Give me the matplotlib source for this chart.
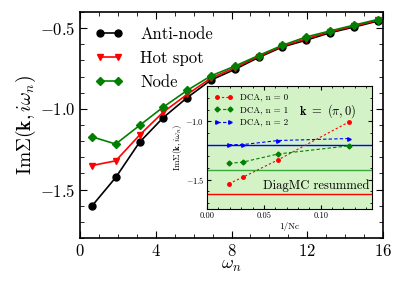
import numpy as np
import matplotlib
matplotlib.use("Agg")
import matplotlib.pyplot as plt
from matplotlib.ticker import MultipleLocator

plt.rcParams["font.family"] = "serif"
plt.rcParams["font.serif"] = ["cmr10", "DejaVu Serif"]
plt.rcParams["mathtext.fontset"] = "cm"
plt.rcParams["axes.formatter.use_mathtext"] = True

# Matsubara frequencies
wn = [0.628, 1.885, 3.142, 4.398, 5.655, 6.912, 8.168, 9.425, 10.681, 11.938, 13.195, 14.451, 15.708]
antinode = [-1.602, -1.425, -1.207, -1.054, -0.931, -0.822, -0.756, -0.682, -0.617, -0.575, -0.529, -0.494, -0.457]
hotspot = [-1.351, -1.322, -1.163, -1.020, -0.911, -0.810, -0.746, -0.676, -0.612, -0.566, -0.523, -0.488, -0.452]
node = [-1.173, -1.218, -1.103, -0.989, -0.886, -0.796, -0.736, -0.670, -0.607, -0.555, -0.518, -0.482, -0.447]

# inset: DCA extrapolation in 1/Nc
inv_nc = [0.0192, 0.03125, 0.0625, 0.125]
dca_n0 = [-1.534, -1.48, -1.33, -1.005]
dca_n1 = [-1.36, -1.35, -1.28, -1.21]
dca_n2 = [-1.20, -1.20, -1.165, -1.148]
diagmc = [-1.62, -1.42, -1.20]  # n = 0, 1, 2

fig = plt.figure(figsize=(3.99, 2.91), dpi=100)
ax = fig.add_axes([0.2005, 0.182, 0.7595, 0.777])

ax.plot(wn, antinode, "-o", color="black", ms=5, lw=1.2, label="Anti-node")
ax.plot(wn, hotspot, "-v", color="red", ms=5, lw=1.2, label="Hot spot")
ax.plot(wn, node, "-D", color="green", ms=4, lw=1.2, label="Node")

ax.set_xlim(0, 16)
ax.set_ylim(-1.8, -0.4)
ax.xaxis.set_major_locator(MultipleLocator(4))
ax.xaxis.set_minor_locator(MultipleLocator(1))
ax.yaxis.set_major_locator(MultipleLocator(0.5))
ax.yaxis.set_minor_locator(MultipleLocator(0.1))
ax.tick_params(which="both", direction="in", top=True, right=True, labelsize=12)
ax.tick_params(which="major", length=5)
ax.tick_params(which="minor", length=3)
for s in ax.spines.values():
    s.set_linewidth(1.2)
ax.set_xlabel(r"$\omega_n$", fontsize=13, labelpad=0)
ax.set_ylabel(r"$\mathrm{Im}\Sigma(\mathbf{k},i\omega_n)$", fontsize=14, labelpad=1)
ax.legend(loc="upper left", frameon=False, fontsize=12, numpoints=2,
          handlelength=1.7, borderaxespad=0.5, labelspacing=0.5, handletextpad=1.0)

# inset
ins = fig.add_axes([0.519, 0.282, 0.413, 0.422])
ins.set_facecolor("#d3f2c6")
ins.axhline(diagmc[0], color="red", lw=1.0)
ins.axhline(diagmc[1], color="#3aa83a", lw=1.0)
ins.axhline(diagmc[2], color="blue", lw=1.0)
ins.plot(inv_nc, dca_n0, ls=(0, (2, 2)), marker="o", color="red", ms=2.5, lw=0.8, label="DCA, n = 0")
ins.plot(inv_nc, dca_n1, ls=(0, (3, 2)), marker="D", color="green", ms=2.5, lw=0.8, label="DCA, n = 1")
ins.plot(inv_nc, dca_n2, ls=(0, (3, 2)), marker=">", color="blue", ms=2.5, lw=0.8, label="DCA, n = 2")
ins.set_xlim(0, 0.145)
ins.set_ylim(-1.75, -0.7)
ins.xaxis.set_major_locator(MultipleLocator(0.05))
ins.xaxis.set_minor_locator(MultipleLocator(0.01))
ins.yaxis.set_major_locator(MultipleLocator(0.5))
ins.yaxis.set_minor_locator(MultipleLocator(0.1))
ins.xaxis.set_major_formatter(matplotlib.ticker.FormatStrFormatter("%.2f"))
ins.tick_params(which="both", direction="in", top=True, right=True, labelsize=6, pad=2)
ins.tick_params(which="major", length=3)
ins.tick_params(which="minor", length=1.5)
ins.set_xlabel("1/Nc", fontsize=6.5, fontweight="bold", labelpad=1)
ins.set_ylabel(r"$\mathrm{Im}\Sigma(\mathbf{k},i\omega_n)$", fontsize=6.5, labelpad=1)
ins.legend(loc="upper left", frameon=False, fontsize=6.5, numpoints=2,
           handlelength=2.0, borderaxespad=0.4, labelspacing=0.45)
ins.text(0.56, 0.80, r"$\mathbf{k}\ =\ (\pi,0)$", transform=ins.transAxes, fontsize=9,
         va="center")
ins.text(0.985, 0.135, "DiagMC resummed", transform=ins.transAxes, fontsize=9,
         ha="right", va="bottom")

fig.savefig("out.png", dpi=100)
